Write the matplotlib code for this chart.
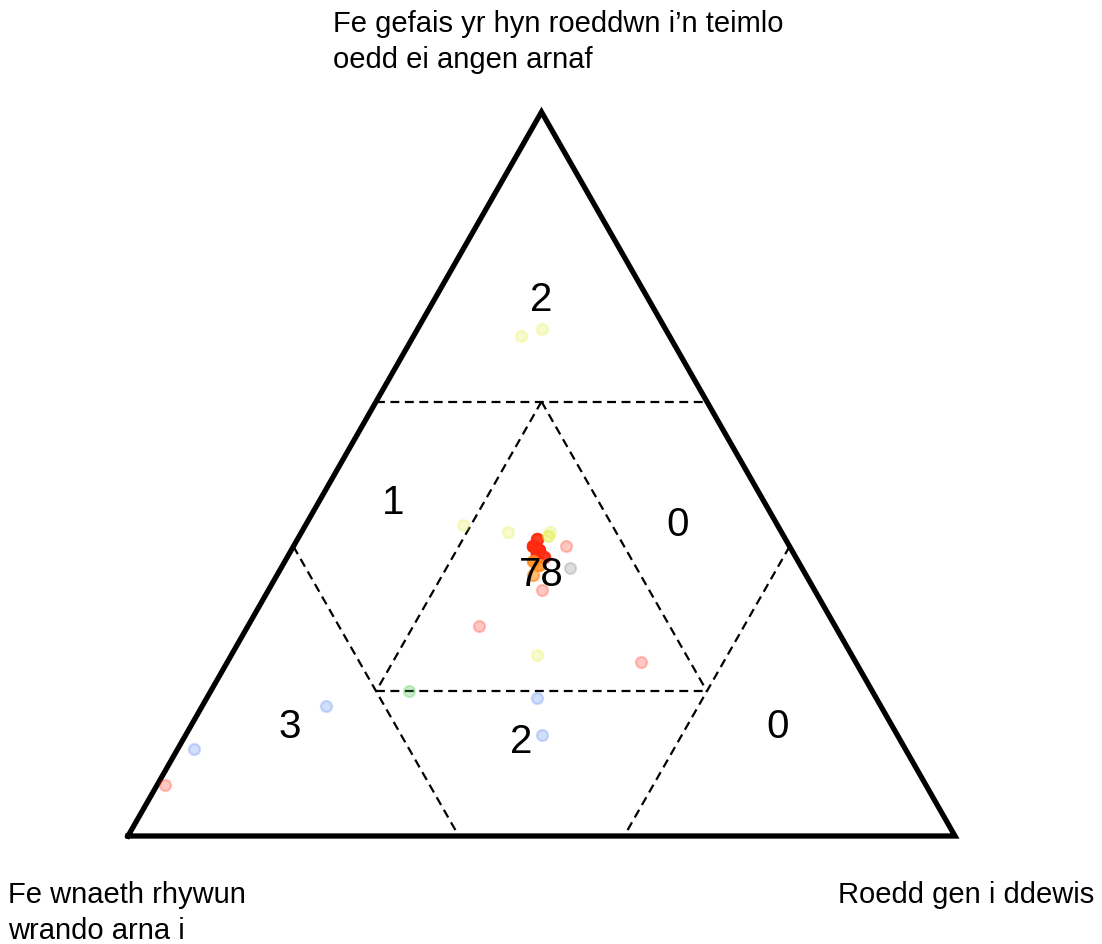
import numpy as np
import matplotlib
matplotlib.use("Agg")
import matplotlib.pyplot as plt

plt.rcParams['font.family'] = ['Liberation Sans', 'DejaVu Sans']

# corner labels, one entry per line
label_top = ["Fe gefais yr hyn roeddwn i\u2019n teimlo", "oedd ei angen arnaf"]
label_left = ["Fe wnaeth rhywun", "wrando arna i"]
label_right = ["Roedd gen i ddewis"]

# single responses (shares of left / right / top corner)
pt_wrando = [0.18, 0.15, 0.38, 0.33, 0.28, 0.27, 0.28, 0.33, 0.43, 0.38, 0.26, 0.56, 0.41, 0.43, 0.67, 0.86, 0.92]
pt_ddewis = [0.13, 0.15, 0.19, 0.25, 0.30, 0.33, 0.35, 0.33, 0.28, 0.37, 0.50, 0.24, 0.40, 0.43, 0.15, 0.02, 0.01]
pt_teimlo = [0.69, 0.70, 0.43, 0.42, 0.42, 0.40, 0.37, 0.34, 0.29, 0.25, 0.24, 0.20, 0.19, 0.14, 0.18, 0.12, 0.07]
pt_colour = ['yellow', 'yellow', 'yellow', 'yellow', 'yellow', 'red', 'grey', 'red', 'red',
             'yellow', 'red', 'green', 'blue', 'blue', 'blue', 'blue', 'red']

# the big group in the middle (position, how many answers there)
grp_wrando = [0.30, 0.30, 0.30, 0.30, 0.30, 0.31, 0.31, 0.32, 0.28]
grp_ddewis = [0.29, 0.29, 0.30, 0.30, 0.31, 0.30, 0.31, 0.31, 0.30]
grp_teimlo = [0.41, 0.40, 0.395, 0.39, 0.385, 0.38, 0.375, 0.36, 0.415]
grp_count = [8, 12, 12, 12, 8, 6, 6, 3, 2]
grp_colour = ['red', 'red', 'red', 'red', 'red', 'orange', 'orange', 'orange', 'yellow']

# counts written in each zone
zone_counts = [2, 1, 0, 78, 3, 2, 0]
zone_wrando = [0.13, 0.45, 0.12, 0.32, 0.73, 0.46, 0.14]
zone_ddewis = [0.13, 0.09, 0.45, 0.32, 0.12, 0.41, 0.71]
zone_teimlo = [0.74, 0.46, 0.43, 0.36, 0.15, 0.13, 0.15]

palette = {'red': '#ff2a10', 'orange': '#ff8c1a', 'yellow': '#e3ef3a',
           'green': '#36c43c', 'blue': '#4a7cf0', 'grey': '#7a7a7a'}


def to_xy(b, c):
    b = np.asarray(b, dtype=float)
    c = np.asarray(c, dtype=float)
    return b + c / 2, c


fig = plt.figure(figsize=(11.02, 9.44), dpi=100)
ax = fig.add_axes([128 / 1102, 108 / 944, 827 / 1102, 724 / 944])
ax.set_xlim(0, 1)
ax.set_ylim(0, 1)
ax.axis('off')

# outer triangle
ax.plot([0, 1, 0.5, 0], [0, 0, 1, 0], color='black', lw=3.8,
        solid_joinstyle='miter', clip_on=False)

# zone borders (a = left share, b = right share, c = top share)
segs = [((0.4, 0.0, 0.6), (0.0, 0.4, 0.6)),
        ((0.2, 0.2, 0.6), (0.6, 0.2, 0.2)),
        ((0.2, 0.2, 0.6), (0.2, 0.6, 0.2)),
        ((0.6, 0.2, 0.2), (0.2, 0.6, 0.2)),
        ((0.6, 0.0, 0.4), (0.6, 0.4, 0.0)),
        ((0.0, 0.6, 0.4), (0.4, 0.6, 0.0))]
for p, q in segs:
    xs, ys = to_xy([p[1], q[1]], [p[2], q[2]])
    ax.plot(xs, ys, color='black', lw=1.6, ls=(0, (4, 2.5)))

# points
all_b = list(pt_ddewis) + list(np.repeat(grp_ddewis, grp_count))
all_c = list(pt_teimlo) + list(np.repeat(grp_teimlo, grp_count))
all_col = list(pt_colour) + list(np.repeat(grp_colour, grp_count))
x, y = to_xy(all_b, all_c)
for xi, yi, col in zip(x, y, all_col):
    ax.scatter(xi, yi, s=65, facecolor=palette[col], edgecolor=palette[col],
               alpha=0.26, linewidths=1.5, zorder=3)

# zone counts
zx, zy = to_xy(zone_ddewis, zone_teimlo)
for xi, yi, n in zip(zx, zy, zone_counts):
    ax.text(xi, yi, str(n), fontsize=29, ha='center', va='center', zorder=4)

for i, line in enumerate(label_top):
    fig.text(333 / 1102, 1 - (32 + 36 * i) / 944, line, fontsize=21,
             va='baseline', ha='left')
for i, line in enumerate(label_left):
    fig.text(8 / 1102, 1 - (903 + 36 * i) / 944, line, fontsize=21,
             va='baseline', ha='left')
for i, line in enumerate(label_right):
    fig.text(1094 / 1102, 1 - (903 + 36 * i) / 944, line, fontsize=21,
             va='baseline', ha='right')

fig.savefig("out.png", dpi=100)
